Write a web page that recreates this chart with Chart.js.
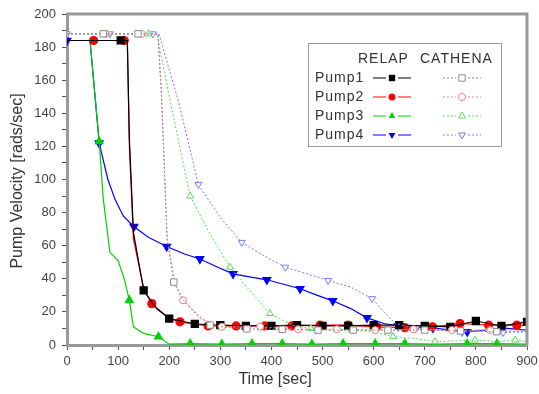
<!DOCTYPE html>
<html>
<head>
<meta charset="utf-8">
<script src="https://cdn.jsdelivr.net/npm/chart.js@4.4.1/dist/chart.umd.min.js"></script>
<style>
  html, body { margin: 0; padding: 0; background: #fff; }
  #wrap { width: 539px; height: 394px; }
</style>
</head>
<body>
<div id="wrap"><canvas id="my-chart" width="539" height="394"></canvas></div>
<script>
// RELAP (solid, filled markers)
const r1T = [0, 105, 118, 122, 130, 150, 175, 200, 250, 300, 350, 400, 450, 500, 550, 600, 650, 700, 750, 800, 850, 900];
const r1V = [184, 184, 184, 125, 68, 33, 22, 16, 12.7, 12, 11.5, 11.5, 12, 11.5, 11.5, 12, 12, 11.5, 11, 14.5, 11.5, 14];
const r1M = [105, 150, 200, 250, 300, 350, 400, 450, 500, 550, 600, 650, 700, 750, 800, 850, 900];

const r2T = [0, 52, 112, 118, 122, 130, 151, 166, 200, 221, 276, 331, 387, 440, 495, 550, 606, 661, 715, 769, 825, 880, 900];
const r2V = [184, 184, 184, 184, 120, 64, 33, 25, 16, 14, 11.5, 11.5, 11.5, 11.5, 12, 12, 11, 10.5, 11, 13, 12, 12, 12];
const r2M = [52, 112, 166, 221, 276, 331, 387, 440, 495, 550, 606, 661, 715, 769, 825, 880];

const r3T = [0, 45, 63, 71, 84, 100, 112, 122, 130, 150, 179, 200, 241, 303, 362, 421, 479, 540, 603, 661, 720, 783, 841, 900];
const r3V = [184, 184, 123, 88, 56, 51, 40, 27, 11, 7, 5, 0.5, 0.8, 0.5, 0.8, 0.8, 0.5, 0.8, 0.8, 0.8, 0.5, 0.8, 0.8, 0.5];
const r3M = [63, 122, 179, 241, 303, 362, 421, 479, 540, 603, 661, 720, 783, 841];

const r4T = [0, 45, 63, 80, 94, 110, 131, 160, 195, 230, 260, 295, 325, 360, 391, 420, 456, 490, 520, 555, 587, 620, 648, 680, 716, 750, 783, 820, 851, 900];
const r4V = [184, 184, 122, 100, 88, 78, 71.5, 65, 59.5, 55, 52, 47, 43, 41, 39.4, 37, 34, 30, 26.7, 22, 16.4, 13, 11.5, 11, 10.3, 9, 8, 9, 10.3, 9];
const r4M = [0, 63, 131, 195, 260, 325, 391, 456, 520, 587, 648, 716, 783, 851];

// CATHENA (dotted, open markers)
const c1T = [0, 71, 139, 178, 185, 196, 209, 225, 250, 280, 300, 352, 421, 491, 560, 628, 700, 770, 841, 900];
const c1V = [188, 188, 188, 188, 150, 64, 38, 28, 20, 12, 11, 9.7, 9.5, 9, 9, 9, 9, 8.5, 8, 8];
const c1M = [71, 139, 209, 280, 352, 421, 491, 560, 628, 700, 770, 841];

const c2T = [0, 75, 146, 178, 185, 196, 211, 227, 260, 303, 378, 452, 528, 603, 678, 753, 828, 900];
const c2V = [188, 188, 188, 188, 150, 64, 38, 27, 16, 11, 11, 9.5, 9.5, 9, 9.5, 9, 9, 9];
const c2M = [75, 146, 227, 303, 378, 452, 528, 603, 678, 753, 828];

const c3T = [0, 78, 159, 176, 200, 241, 280, 319, 360, 397, 440, 477, 520, 557, 600, 638, 680, 720, 760, 798, 840, 877, 900];
const c3V = [188, 188, 188, 188, 150, 90, 67, 47, 32, 19, 12, 10, 9, 9, 8, 5, 4, 2, 2.5, 3, 2, 3, 2];
const c3M = [78, 159, 241, 319, 397, 477, 557, 638, 720, 798, 877];

const c4T = [0, 84, 168, 180, 220, 257, 300, 342, 385, 427, 470, 511, 555, 597, 620, 642, 682, 730, 773, 810, 853, 900];
const c4V = [188, 188, 188, 188, 145, 97, 77, 62, 54, 47, 43, 39, 35, 28, 20, 13, 10, 9, 7.5, 9, 7.5, 8];
const c4M = [0, 84, 168, 257, 342, 427, 511, 597, 682, 773, 853];

const pumpNames = ['Pump1', 'Pump2', 'Pump3', 'Pump4'];
const yTicks = [0, 20, 40, 60, 80, 100, 120, 140, 160, 180, 200];
const xTicks = [0, 100, 200, 300, 400, 500, 600, 700, 800, 900];

const relapColors = ['#000000', '#ff0000', '#00d000', '#0000ff'];
const cathColors = ['#8a8a8a', '#ff7a7a', '#55dd55', '#7a7aff'];
const styles = [
  { pointStyle: 'rect', rotation: 0, r: 5 },
  { pointStyle: 'circle', rotation: 0, r: 4 },
  { pointStyle: 'triangle', rotation: 0, r: 4.5 },
  { pointStyle: 'triangle', rotation: 180, r: 4.5 }
];

const FONT = '"Liberation Sans", Arial, sans-serif';
const pairs = (t, v) => t.map((x, i) => ({ x: x, y: v[i] }));

const relapSets = [[r1T, r1V, r1M], [r2T, r2V, r2M], [r3T, r3V, r3M], [r4T, r4V, r4M]];
const cathSets = [[c1T, c1V, c1M], [c2T, c2V, c2M], [c3T, c3V, c3M], [c4T, c4V, c4M]];

let datasets = [];
cathSets.forEach((s, i) => {
  datasets.push({
    label: pumpNames[i] + ' CATHENA',
    data: pairs(s[0], s[1]),
    borderColor: cathColors[i],
    borderWidth: 1,
    borderDash: [2, 2],
    backgroundColor: '#ffffff',
    pointBorderColor: cathColors[i],
    pointBorderWidth: 1,
    pointStyle: styles[i].pointStyle,
    rotation: styles[i].rotation,
    pointRadius: ctx => s[2].includes(ctx.raw.x) ? styles[i].r - 0.5 : 0,
    tension: 0
  });
});
relapSets.forEach((s, i) => {
  datasets.push({
    label: pumpNames[i] + ' RELAP',
    data: pairs(s[0], s[1]),
    borderColor: relapColors[i],
    borderWidth: 1.2,
    backgroundColor: relapColors[i],
    pointBorderColor: relapColors[i],
    pointStyle: styles[i].pointStyle,
    rotation: styles[i].rotation,
    pointRadius: ctx => s[2].includes(ctx.raw.x) ? styles[i].r : 0,
    tension: 0
  });
});

const framePlugin = {
  id: 'frame',
  afterDraw(chart) {
    const ctx = chart.ctx, a = chart.chartArea;
    ctx.save();
    ctx.strokeStyle = '#999';
    ctx.lineWidth = 3;
    ctx.beginPath();
    ctx.moveTo(a.left, a.top);
    ctx.lineTo(a.right, a.top);
    ctx.lineTo(a.right, a.bottom);
    ctx.stroke();

    // axis titles
    ctx.fillStyle = '#333';
    ctx.font = '16px ' + FONT;
    ctx.textAlign = 'center';
    ctx.textBaseline = 'middle';
    ctx.fillText('Time [sec]', 275, 380);
    ctx.save();
    ctx.translate(18, 181);
    ctx.rotate(-Math.PI / 2);
    ctx.fillText('Pump Velocity [rads/sec]', 0, 0);
    ctx.restore();

    // legend box
    const bx = 308, by = 43, bw = 193, bh = 103;
    ctx.fillStyle = '#fff';
    ctx.fillRect(bx, by, bw, bh);
    ctx.lineWidth = 1;
    ctx.strokeStyle = '#999';
    ctx.strokeRect(bx + 0.5, by + 0.5, bw, bh);
    ctx.fillStyle = '#333';
    ctx.font = '14px ' + FONT;
    ctx.letterSpacing = '1px';
    ctx.textBaseline = 'middle';
    ctx.textAlign = 'left';
    ctx.fillText('RELAP', 358, 59);
    ctx.fillText('CATHENA', 420, 59);
    pumpNames.forEach((name, i) => {
      const yy = 78 + i * 19;
      ctx.fillStyle = '#333';
      ctx.fillText(name, 315, yy);
      // relap sample
      ctx.setLineDash([]);
      ctx.strokeStyle = relapColors[i];
      ctx.lineWidth = 1;
      ctx.beginPath();
      ctx.moveTo(373, yy); ctx.lineTo(386, yy);
      ctx.moveTo(398, yy); ctx.lineTo(411, yy);
      ctx.stroke();
      ctx.fillStyle = relapColors[i];
      Chart.helpers.drawPoint(ctx, { pointStyle: styles[i].pointStyle, rotation: styles[i].rotation, radius: styles[i].r - 0.5, borderWidth: 0 }, 392, yy);
      // cathena sample
      ctx.setLineDash([2, 2]);
      ctx.strokeStyle = cathColors[i];
      ctx.beginPath();
      ctx.moveTo(443, yy); ctx.lineTo(456, yy);
      ctx.moveTo(468, yy); ctx.lineTo(481, yy);
      ctx.stroke();
      ctx.setLineDash([]);
      ctx.fillStyle = '#fff';
      Chart.helpers.drawPoint(ctx, { pointStyle: styles[i].pointStyle, rotation: styles[i].rotation, radius: styles[i].r - 0.5, borderWidth: 1 }, 462, yy);
    });
    ctx.restore();
  }
};

const tickFont = { family: FONT, size: 13 };

const ctx = document.getElementById('my-chart').getContext('2d');
new Chart(ctx, {
  type: 'line',
  data: { datasets: datasets },
  plugins: [framePlugin],
  options: {
    responsive: false,
    animation: false,
    layout: { padding: { top: 14, right: 12, left: 0, bottom: 0 } },
    plugins: { legend: { display: false }, tooltip: { enabled: false } },
    scales: {
      x: {
        type: 'linear',
        min: 0, max: 900,
        afterFit: s => { s.height = 49; s.paddingLeft = 0; s.paddingRight = 0; },
        afterBuildTicks: s => {
          let t = [];
          for (let v = 0; v <= 900; v += 50) t.push({ value: v });
          s.ticks = t;
        },
        ticks: {
          autoSkip: false, maxRotation: 0,
          color: '#444', font: tickFont, padding: 4,
          callback: v => xTicks.includes(v) ? String(v) : ''
        },
        grid: { drawOnChartArea: false, drawTicks: true, tickLength: 5, color: '#555', lineWidth: 1 },
        border: { color: '#999', width: 3 }
      },
      y: {
        min: 0, max: 200,
        afterFit: s => { s.width = 67; s.paddingTop = 0; s.paddingBottom = 0; },
        afterBuildTicks: s => {
          let t = [];
          for (let v = 0; v <= 200; v += 10) t.push({ value: v });
          s.ticks = t;
        },
        ticks: {
          autoSkip: false,
          color: '#444', font: tickFont, padding: 6,
          callback: v => yTicks.includes(v) ? String(v) : ''
        },
        grid: { drawOnChartArea: false, drawTicks: true, tickLength: 5, color: '#555', lineWidth: 1 },
        border: { color: '#999', width: 3 }
      }
    }
  }
});
</script>
</body>
</html>
